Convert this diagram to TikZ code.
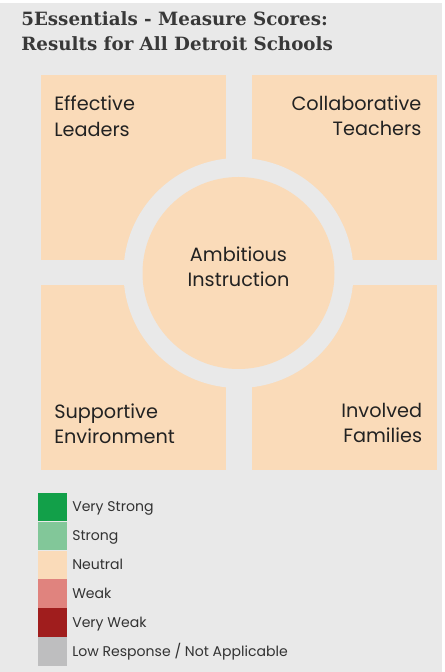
\documentclass[tikz,border=0pt]{standalone}
\usepackage{fontspec}
\setmainfont{Poppins}
\newfontfamily\slabfont{DejaVu Serif}
\usetikzlibrary{positioning}
\definecolor{bgray}{HTML}{E9E9E9}
\definecolor{peach}{HTML}{FADBB9}
\definecolor{kvstrong}{HTML}{12A049}
\definecolor{kstrong}{HTML}{82C799}
\definecolor{kweak}{HTML}{E0837E}
\definecolor{kvweak}{HTML}{A01D1D}
\definecolor{klow}{HTML}{BEBEBF}
\definecolor{ink}{HTML}{222222}
\tikzset{
  quad/.style={rectangle,fill=peach,minimum width=4.625cm,minimum height=4.625cm,inner sep=0pt},
  ring/.style={circle,fill=bgray,minimum size=5.75cm,inner sep=0pt},
  core/.style={circle,fill=peach,minimum size=4.8cm,inner sep=0pt},
  ess/.style={font=\fontsize{13.7}{17.8}\selectfont,text=ink,inner sep=0pt},
  ttl/.style={font=\slabfont\bfseries\fontsize{13}{17.8}\selectfont,text=black!78,inner sep=0pt,align=left},
  swatch/.style={rectangle,minimum width=7.25mm,minimum height=7.08mm,inner sep=0pt},
  key/.style={font=\fontsize{10}{12}\selectfont,text=black!80,inner sep=0pt,text height=0.7em,text depth=0pt},
}
\begin{document}
\begin{tikzpicture}
\useasboundingbox (0,0) rectangle (11.1,16.8);
\fill[white] (0,0) rectangle (11.1,16.8);
\fill[bgray] (0,0) rectangle (11.05,16.725);
\node[ttl,anchor=north west] (head) at (0.525,16.52)
  {5Essentials - Measure Scores:\\Results for All Detroit Schools};
% the five essentials
\node[quad] (EL) at (3.3375,12.6125) {};
\node[quad,right=0.625cm of EL] (CT) {};
\node[quad,below=0.6cm of EL] (SE) {};
\node[quad,right=0.625cm of SE] (IF) {};
\node[ring] (AIr) at (5.9625,9.975) {};
\node[core] (AI) at (5.9625,9.975) {};
\node[ess,anchor=north west,align=left] (ELt) at (1.35,14.4) {Effective\\Leaders};
\node[ess,anchor=north east,align=right] (CTt) at (10.54,14.4) {Collaborative\\Teachers};
\node[ess,anchor=north west,align=left] (SEt) at (1.35,6.72) {Supportive\\Environment};
\node[ess,anchor=north east,align=right] (IFt) at (10.56,6.72) {Involved\\Families};
\node[ess,align=center] (AIt) at (5.9625,10.125) {Ambitious\\Instruction};
% legend
\node[swatch,fill=kvstrong] (k1) at (1.305,4.125) {};
\node[swatch,fill=kstrong,below=0pt of k1] (k2) {};
\node[swatch,fill=peach,below=0pt of k2] (k3) {};
\node[swatch,fill=kweak,below=0pt of k3] (k4) {};
\node[swatch,fill=kvweak,below=0pt of k4] (k5) {};
\node[swatch,fill=klow,below=0pt of k5] (k6) {};
\node[key,right=1.25mm of k1] (l1) {Very Strong};
\node[key,right=1.25mm of k2] (l2) {Strong};
\node[key,right=1.25mm of k3] (l3) {Neutral};
\node[key,right=1.25mm of k4] (l4) {Weak};
\node[key,right=1.25mm of k5] (l5) {Very Weak};
\node[key,right=1.25mm of k6] (l6) {Low Response / Not Applicable};
\end{tikzpicture}
\end{document}
